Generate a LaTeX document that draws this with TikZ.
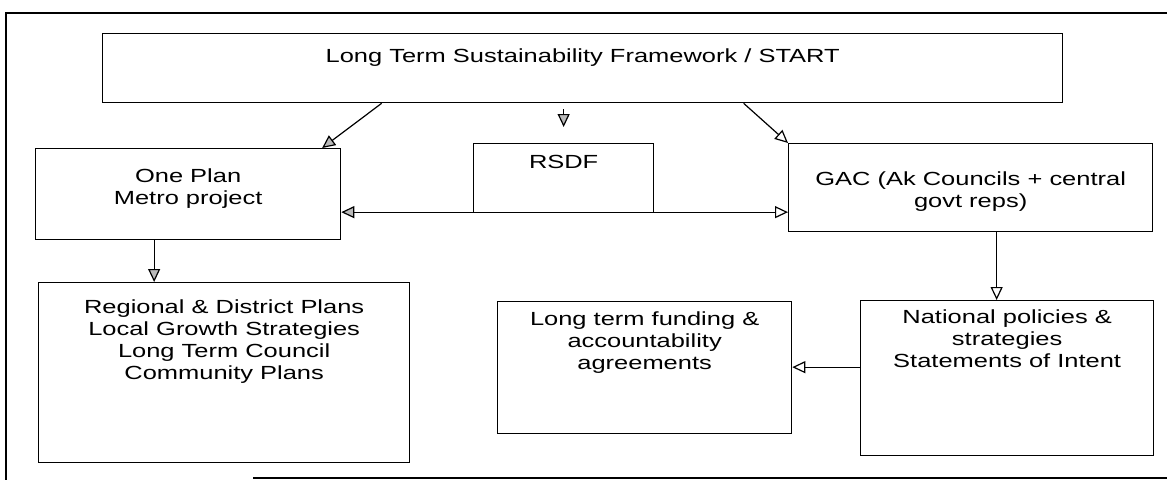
\documentclass[tikz,border=0pt]{standalone}
\usepackage{fontspec}
\setmainfont{Liberation Sans}[FakeStretch=1.34]
\usepackage{tikz}
\usetikzlibrary{arrows.meta, positioning}

\begin{document}
\begin{tikzpicture}[x=1pt, y=-1pt,
        % Define common styles for nodes
        box/.style={rectangle, draw, line width=1.3pt, anchor=north west, inner sep=0pt},
        txt/.style={inner sep=0pt, align=center, font=\fontsize{19}{21.7}\selectfont},
        frame_line/.style={draw, line width=1.3pt},
        % Styles for the arrows
        line_gray/.style={draw, line width=1.2pt, -{Triangle[length=13pt, width=12pt, fill=gray!55]}},
        line_open/.style={draw, line width=1.2pt, -{Triangle[length=13pt, width=12pt, fill=white]}},
    ]
    \useasboundingbox (0,0) rectangle (1167,480);

    % Scanned page frame
    \draw[frame_line] (1167,13) -- (6,13) -- (6,480);
    \draw[frame_line] (253,478) -- (1167,478);

    % Top row
    \node (top_box) [box, minimum width=960pt, minimum height=69pt] at (102,33) {};
    \node (top_text) [txt, below=16pt of top_box.north] {Long Term Sustainability Framework / START};

    % Middle row
    \node (one_plan) [box, minimum width=305pt, minimum height=91pt] at (35,148) {};
    \node (one_plan_text) [txt, below=21pt of one_plan.north] {One Plan\\Metro project};

    \node (rsdf) [box, minimum width=180pt, minimum height=69pt] at (473,143) {};
    \node (rsdf_text) [txt, below=12pt of rsdf.north] {RSDF};

    \node (gac) [box, minimum width=364pt, minimum height=88pt] at (788,143) {};
    \node (gac_text) [txt, below=29pt of gac.north] {GAC (Ak Councils + central\\govt reps)};

    % Bottom row
    \node (regional_plans) [box, minimum width=371pt, minimum height=180pt] at (38,282) {};
    \node (regional_text) [txt, below=18pt of regional_plans.north] {Regional \& District Plans\\Local Growth Strategies\\Long Term Council\\Community Plans};

    \node (funding) [box, minimum width=294pt, minimum height=132pt] at (497,301) {};
    \node (funding_text) [txt, below=11pt of funding.north] {Long term funding \&\\accountability\\agreements};

    \node (national_policies) [box, minimum width=293pt, minimum height=155pt] at (860,300) {};
    \node (national_text) [txt, below=10pt of national_policies.north] {National policies \&\\strategies\\Statements of Intent};

    % Draw connections/arrows
    \coordinate (rsdf_tip) at ([yshift=16pt]rsdf.north);
    \coordinate (rsdf_tail) at ([yshift=-6pt]rsdf_tip |- top_box.south);

    \draw[line_gray] ([xshift=-201pt]top_box.south) -- ([xshift=134pt]one_plan.north);
    \draw[line_gray] (rsdf_tail) -- (rsdf_tip);
    \draw[line_open] ([xshift=161pt]top_box.south) -- (gac.north west);

    \draw[line_gray] ([xshift=-34pt]one_plan.south) -- ([xshift=-34pt]one_plan.south |- regional_plans.north);
    \draw[line_open, {Triangle[length=13pt, width=12pt, fill=gray!55]}-{Triangle[length=13pt, width=12pt, fill=white]}]
        ([yshift=-18pt]one_plan.east) -- ([yshift=-18pt]one_plan.east -| gac.west);

    \draw[line_open] ([xshift=26pt]gac.south) -- ([xshift=26pt]gac.south |- national_policies.north);
    \draw[line_open] ([yshift=11pt]national_policies.west) -- ([yshift=11pt]national_policies.west -| funding.east);

\end{tikzpicture}
\end{document}
